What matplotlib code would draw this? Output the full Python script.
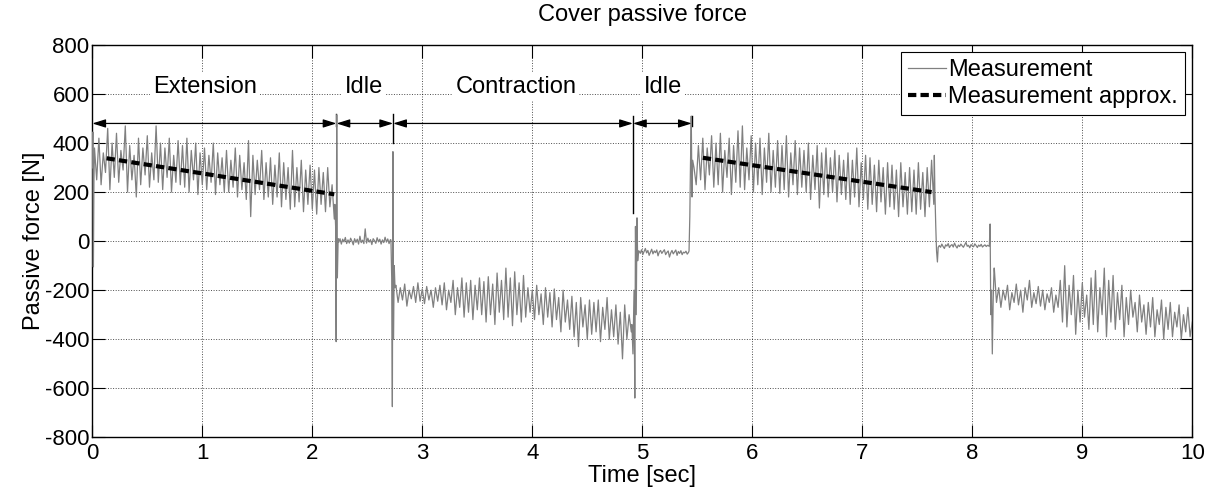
import numpy as np
import matplotlib.pyplot as plt


start_t = [0.0, 0.005, 0.01, 0.015]
start_v = [300, 445, -105, 250]

ext1_range = (0.02, 2.2)
ext1_v = [
    380, 250, 420, 230, 360, 280, 460, 210, 400, 260,
    440, 240, 370, 290, 470, 200, 390, 250, 350, 180,
    420, 230, 380, 270, 430, 220, 360, 250, 470, 240,
    400, 210, 380, 260, 420, 200, 350, 240, 410, 230,
    390, 220, 420, 200, 370, 250, 400, 190, 360, 230,
    380, 210, 350, 240, 400, 190, 360, 230, 340, 200,
    370, 200, 330, 220, 380, 180, 350, 210, 320, 170,
    410, 100, 350, 190, 330, 210, 370, 170, 320, 180,
    340, 150, 310, 180, 360, 140, 320, 170, 300, 130,
    370, 140, 300, 160, 330, 120, 290, 150, 310, 130,
    290, 110, 300, 150, 280, 120, 300, 140, 230, 90,
]

trans1_t = [2.205, 2.212, 2.217, 2.222, 2.228, 2.235]
trans1_v = [150, 60, -410, 515, -150, 10]

idle1_range = (2.24, 2.71)
idle1_v = [
    -5, 10, -12, 8, -3, 15, -10, 5, -8, 12,
    0, -15, 10, -5, 8, -12, 20, -6, 4, -10,
    50, -8, 12, -4, 6, -14, 10, 2, -9, 14,
    -3, 8, -12, 5, -6, 16, -4, 9, -10, 6,
]

trans2_t = [2.715, 2.722, 2.728, 2.733, 2.738, 2.745, 2.752]
trans2_v = [5, -150, -675, 365, -400, -100, -190]

con1_range = (2.76, 4.90)
con1_v = [
    -180, -250, -190, -240, -175, -265, -200, -235, -185, -250,
    -170, -245, -195, -255, -185, -240, -200, -270, -190, -245,
    -180, -260, -170, -280, -200, -250, -160, -300, -190, -270,
    -150, -310, -170, -290, -160, -320, -180, -280, -150, -300,
    -165, -330, -145, -300, -175, -340, -130, -290, -160, -320,
    -110, -310, -150, -345, -125, -300, -170, -330, -140, -310,
    -190, -290, -200, -320, -180, -300, -215, -340, -190, -310,
    -210, -350, -195, -320, -230, -370, -200, -330, -240, -360,
    -225, -390, -250, -430, -230, -350, -260, -400, -240, -380,
    -250, -370, -240, -410, -270, -360, -230, -400, -280, -390,
    -260, -420, -290, -480, -260, -400, -300, -370,
]

trans3_t = [4.905, 4.915, 4.925, 4.932, 4.938, 4.945, 4.952, 4.958, 4.965]
trans3_v = [-340, -460, -200, -640, 60, -300, 95, -80, -40]

idle2_range = (4.97, 5.42)
idle2_v = [
    -40, -50, -35, -55, -42, -30, -48, -38, -58, -45,
    -33, -52, -40, -47, -36, -60, -44, -38, -50, -42,
    -35, -55, -46, -40, -65, -48, -38, -52, -44, -36,
    -58, -42, -50, -39, -55, -45, -48, -41, -53, -46,
]

trans4_t = [5.425, 5.432, 5.438, 5.445, 5.452, 5.458]
trans4_v = [-40, 100, 310, 510, 180, 330]

ext2_range = (5.47, 7.65)
ext2_v = [
    300, 230, 390, 250, 420, 210, 380, 270, 430, 220,
    400, 230, 440, 200, 370, 260, 420, 190, 390, 240,
    450, 220, 470, 210, 380, 250, 430, 200, 400, 230,
    420, 190, 380, 240, 440, 200, 370, 220, 410, 195,
    390, 210, 430, 180, 360, 230, 410, 190, 380, 220,
    370, 200, 400, 170, 350, 210, 390, 135, 360, 190,
    380, 180, 340, 200, 370, 160, 350, 190, 330, 170,
    360, 150, 330, 180, 380, 140, 320, 170, 350, 130,
    340, 150, 310, 120, 330, 160, 300, 110, 320, 140,
    310, 130, 290, 100, 320, 140, 280, 110, 300, 120,
    290, 110, 320, 130, 280, 100, 300, 140, 330, 150,
]

trans5_t = [7.655, 7.66, 7.668, 7.675, 7.683, 7.69]
trans5_v = [350, 200, 60, -40, -85, -25]

idle3_range = (7.70, 8.15)
idle3_v = [
    -18, -25, -12, -22, -30, -15, -20, -10, -26, -18,
    -14, -24, -8, -20, -28, -16, -22, -12, -19, -25,
    -15, -5, -21, -17, -27, -14, -20, -23, -11, -18,
    -26, -16, -21, -13, -24, -19, -15, -22, -17, -20,
]

trans6_t = [8.155, 8.162, 8.168, 8.175, 8.182, 8.19, 8.198]
trans6_v = [-20, 70, -300, -200, -460, -240, -110]

con2_range = (8.2, 10.0)
con2_v = [
    -110, -250, -190, -270, -200, -240, -180, -280, -210, -250,
    -175, -260, -200, -290, -190, -240, -160, -270, -210, -255,
    -185, -265, -200, -280, -215, -250, -190, -290, -220, -270,
    -160, -330, -100, -350, -180, -300, -140, -380, -200, -330,
    -170, -310, -220, -360, -150, -340, -120, -370, -190, -300,
    -110, -390, -160, -330, -140, -360, -210, -320, -180, -390,
    -230, -340, -200, -310, -250, -370, -220, -330, -260, -380,
    -250, -350, -230, -390, -280, -340, -240, -400, -270, -360,
    -250, -390, -290, -350, -260, -400, -300, -370, -270, -390, -330,
]

# linear approximations of the extension phases
approx1_t = [0.13, 2.2]
approx1_v = [338, 191]
approx2_t = [5.55, 7.63]
approx2_v = [340, 200]

# phase annotations
phase_names = ["Extension", "Idle", "Contraction", "Idle"]
phase_bounds = [0.0, 2.22, 2.735, 4.915, 5.45]
phase_label_x = [1.025, 2.47, 3.85, 5.19]
arrow_y = 480
label_y = 629
sep_t = [2.22, 2.735, 4.912, 5.45]
sep_top = [518, 517, 510, 510]
sep_bottom = [470, 400, 115, 470]


def segment(rng, values):
    return np.linspace(rng[0], rng[1], len(values)), np.array(values, dtype=float)


parts = [
    (np.array(start_t), np.array(start_v, dtype=float)),
    segment(ext1_range, ext1_v),
    (np.array(trans1_t), np.array(trans1_v, dtype=float)),
    segment(idle1_range, idle1_v),
    (np.array(trans2_t), np.array(trans2_v, dtype=float)),
    segment(con1_range, con1_v),
    (np.array(trans3_t), np.array(trans3_v, dtype=float)),
    segment(idle2_range, idle2_v),
    (np.array(trans4_t), np.array(trans4_v, dtype=float)),
    segment(ext2_range, ext2_v),
    (np.array(trans5_t), np.array(trans5_v, dtype=float)),
    segment(idle3_range, idle3_v),
    (np.array(trans6_t), np.array(trans6_v, dtype=float)),
    segment(con2_range, con2_v),
]
time = np.concatenate([p[0] for p in parts])
force = np.concatenate([p[1] for p in parts])

plt.rcParams["font.family"] = ["Liberation Sans", "DejaVu Sans"]
plt.rcParams["axes.unicode_minus"] = False

fig = plt.figure(figsize=(12.16, 4.95), dpi=100)
ax = fig.add_axes([0.0759, 0.1166, 0.9046, 0.7925])

ax.plot(time, force, color="#808080", linewidth=0.9, label="Measurement", zorder=3)
ax.plot(approx1_t, approx1_v, color="black", linestyle="--", linewidth=3,
        dashes=(2.0, 1.0), label="Measurement approx.", zorder=4)
ax.plot(approx2_t, approx2_v, color="black", linestyle="--", linewidth=3,
        dashes=(2.0, 1.0), zorder=4)

for t, top, bottom in zip(sep_t, sep_top, sep_bottom):
    ax.plot([t, t], [bottom, top], color="black", linewidth=1.0, zorder=2)

for i, name in enumerate(phase_names):
    ax.annotate("", xy=(phase_bounds[i], arrow_y), xytext=(phase_bounds[i + 1], arrow_y),
                arrowprops=dict(arrowstyle="<|-|>,head_length=0.8,head_width=0.25",
                                color="black", linewidth=0.9, shrinkA=0, shrinkB=0),
                zorder=5)
    ax.text(phase_label_x[i], label_y, name, ha="center", va="center", fontsize=17,
            bbox=dict(facecolor="white", edgecolor="none", pad=2), zorder=5)

ax.set_xlim(0, 10)
ax.set_ylim(-800, 800)
ax.set_xticks(np.arange(0, 11, 1))
ax.set_yticks(np.arange(-800, 801, 200))
ax.tick_params(direction="in", length=9, width=0.8, labelsize=16, top=True, right=True)
ax.tick_params(axis="x", pad=4)
ax.tick_params(axis="y", pad=2)
ax.grid(True, linestyle=":", color="black", linewidth=0.7, alpha=0.7)
for spine in ax.spines.values():
    spine.set_linewidth(1.0)

ax.set_title("Cover passive force", fontsize=17, pad=17)
ax.set_xlabel("Time [sec]", fontsize=17, labelpad=1)
ax.set_ylabel("Passive force [N]", fontsize=17, labelpad=0)

leg = ax.legend(loc="upper right", fontsize=17, fancybox=False, framealpha=1,
                edgecolor="black", handlelength=1.6, handletextpad=0.1,
                borderaxespad=0.3, borderpad=0.3, labelspacing=0.2)
leg.get_frame().set_linewidth(0.8)
leg.set_zorder(6)

plt.savefig("out.png", dpi=100)
plt.close()
